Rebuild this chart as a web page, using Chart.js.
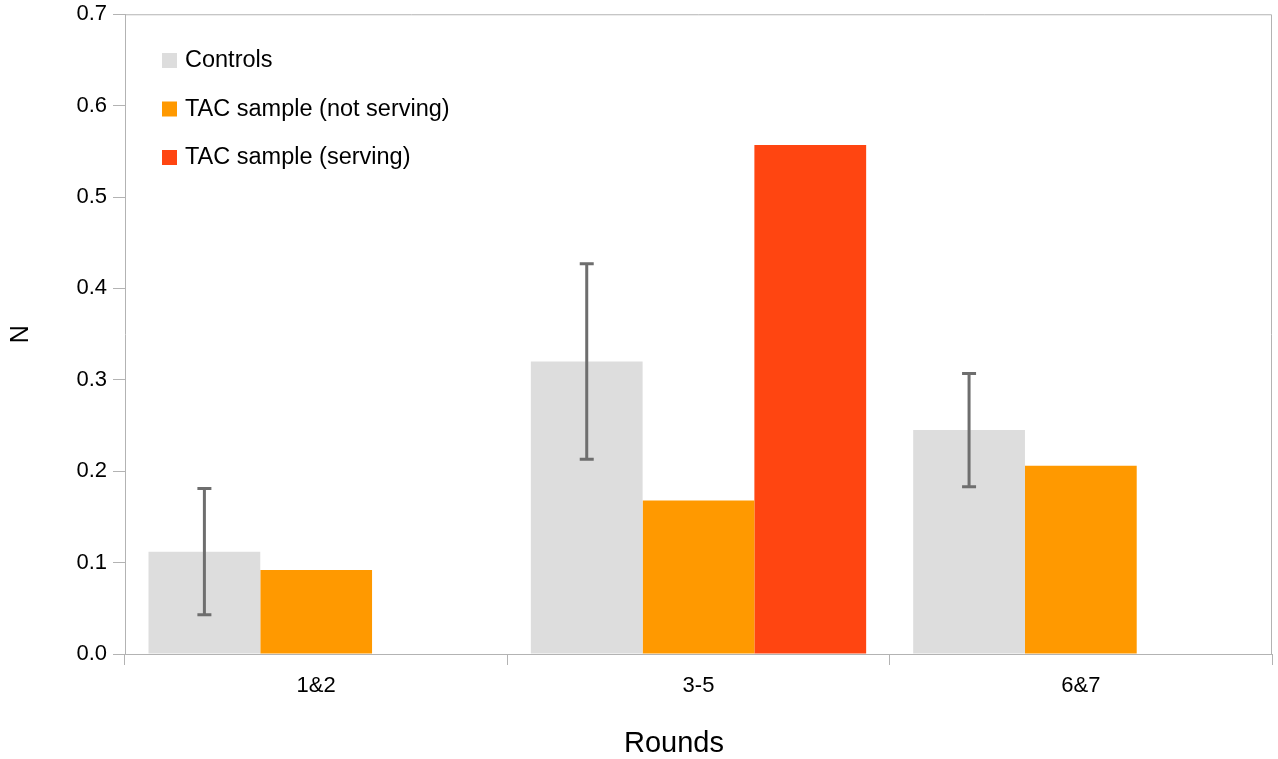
<!DOCTYPE html>
<html lang="en">
<head>
    <meta charset="UTF-8">
    <title>Rounds</title>
    <script src="https://cdn.jsdelivr.net/npm/chart.js"></script>
    <style>
        html, body { margin: 0; padding: 0; background: #fff; }
        #wrap { width: 1278px; height: 759px; }
    </style>
</head>
<body>
    <div id="wrap"><canvas id="roundsChart"></canvas></div>

    <script>
        const rounds = ['1&2', '3-5', '6&7'];
        const controls = [0.112, 0.320, 0.245];
        const notServing = [0.092, 0.168, 0.206];
        const serving = [null, 0.557, null];
        // error bar ends for the Controls series
        const controlsLow = [0.043, 0.213, 0.183];
        const controlsHigh = [0.181, 0.427, 0.307];
        const yTicks = [0, 0.1, 0.2, 0.3, 0.4, 0.5, 0.6, 0.7];

        const axisGrey = '#b3b3b3';
        const font = 'Liberation Sans, Arial, sans-serif';

        const errorBars = {
            id: 'errorBars',
            afterDatasetsDraw(chart) {
                const ctx = chart.ctx;
                const meta = chart.getDatasetMeta(0);
                const y = chart.scales.y;
                ctx.save();
                ctx.strokeStyle = '#6e6e6e';
                ctx.lineWidth = 3;
                meta.data.forEach((bar, i) => {
                    const x = bar.x;
                    const top = y.getPixelForValue(controlsHigh[i]);
                    const bot = y.getPixelForValue(controlsLow[i]);
                    ctx.beginPath();
                    ctx.moveTo(x, top); ctx.lineTo(x, bot);
                    ctx.moveTo(x - 7, top); ctx.lineTo(x + 7, top);
                    ctx.moveTo(x - 7, bot); ctx.lineTo(x + 7, bot);
                    ctx.stroke();
                });
                ctx.restore();
            }
        };

        const frameAndLegend = {
            id: 'frameAndLegend',
            afterDraw(chart) {
                const ctx = chart.ctx;
                const a = chart.chartArea;
                ctx.save();
                ctx.strokeStyle = axisGrey;
                ctx.lineWidth = 1;
                ctx.beginPath();
                ctx.moveTo(a.left, a.top + 0.5); ctx.lineTo(a.right - 0.5, a.top + 0.5);
                ctx.lineTo(a.right - 0.5, a.bottom);
                ctx.stroke();

                ctx.font = '23.5px ' + font;
                ctx.textBaseline = 'middle';
                chart.data.datasets.forEach((ds, i) => {
                    const cy = 60 + i * 48.5;
                    ctx.fillStyle = ds.backgroundColor;
                    ctx.fillRect(162, cy - 7, 15, 15);
                    ctx.fillStyle = '#000';
                    ctx.fillText(ds.label, 185, cy + 1);
                });

                // x axis title sits left of the plot centre in the original
                ctx.font = '29px ' + font;
                ctx.textAlign = 'center';
                ctx.fillText('Rounds', 674, 744);
                ctx.restore();
            }
        };

        new Chart(document.getElementById('roundsChart'), {
            type: 'bar',
            data: {
                labels: rounds,
                datasets: [
                    { label: 'Controls', data: controls, backgroundColor: '#dddddd' },
                    { label: 'TAC sample (not serving)', data: notServing, backgroundColor: '#ff9900' },
                    { label: 'TAC sample (serving)', data: serving, backgroundColor: '#ff4511' }
                ]
            },
            options: {
                responsive: true,
                maintainAspectRatio: false,
                animation: false,
                layout: { padding: { top: 9, right: 6, left: 0, bottom: 0 } },
                datasets: { bar: { categoryPercentage: 0.877, barPercentage: 1 } },
                plugins: { legend: { display: false }, tooltip: { enabled: false } },
                scales: {
                    x: {
                        grid: { drawOnChartArea: false, tickLength: 11, color: axisGrey },
                        border: { color: axisGrey },
                        ticks: { color: '#000', font: { family: font, size: 22 }, padding: 8 },
                        afterFit(s) { s.height = 105; }
                    },
                    y: {
                        min: 0,
                        max: 0.7,
                        afterBuildTicks(s) { s.ticks = yTicks.map(v => ({ value: v })); },
                        grid: { drawOnChartArea: false, tickLength: 12, color: axisGrey },
                        border: { color: axisGrey },
                        ticks: {
                            color: '#000', font: { family: font, size: 22, lineHeight: 0.75 }, padding: 6,
                            callback: v => v.toFixed(1)
                        },
                        title: { display: true, text: 'N', color: '#000', font: { family: font, size: 25 }, padding: { bottom: 0, top: 6 } },
                        afterFit(s) { s.width = 125; }
                    }
                }
            },
            plugins: [errorBars, frameAndLegend]
        });
    </script>
</body>
</html>
